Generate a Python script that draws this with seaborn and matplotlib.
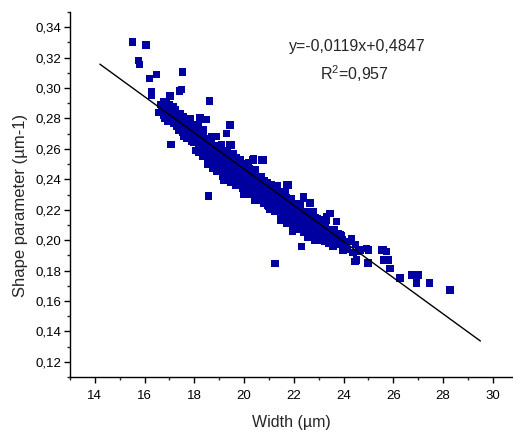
import matplotlib
matplotlib.use("Agg")
import matplotlib.pyplot as plt
from matplotlib.ticker import MultipleLocator, FixedLocator, FixedFormatter
import seaborn as sns
import pandas as pd
import numpy as np

# ---------------- data ----------------
width_outliers = [15.52, 16.06, 15.75, 15.79, 16.49, 16.19, 17.53, 16.28, 16.28, 17.02,
                  17.49, 17.39, 18.60, 16.69, 16.89, 17.09, 17.42, 17.76, 18.23, 18.47,
                  19.43, 19.30, 17.62, 17.89, 18.36, 18.90, 17.06, 18.56, 20.36, 20.76,
                  19.50, 18.76, 21.71, 21.17, 22.38, 23.32, 21.78, 22.31, 23.45, 23.72,
                  23.85, 24.32, 24.66, 24.99, 24.53, 25.53, 25.73, 25.80, 24.98, 23.20,
                  22.92, 24.59, 24.93, 24.46, 25.60, 25.60, 25.86, 26.27, 26.73, 27.00,
                  26.94, 27.44, 28.28, 21.24, 23.57, 23.98, 19.43, 20.70, 20.37, 21.10,
                  22.38, 22.65, 22.78, 23.18, 23.32]
shape_outliers = [0.3303, 0.3282, 0.3179, 0.3155, 0.3089, 0.3063, 0.3105, 0.2975, 0.2950, 0.2947,
                  0.2990, 0.2980, 0.2915, 0.2880, 0.2900, 0.2866, 0.2833, 0.2800, 0.2807, 0.2794,
                  0.2756, 0.2702, 0.2723, 0.2745, 0.2723, 0.2680, 0.2630, 0.2290, 0.2526, 0.2526,
                  0.2625, 0.2472, 0.2362, 0.2351, 0.2275, 0.2132, 0.2362, 0.1957, 0.2176, 0.2121,
                  0.2034, 0.2012, 0.1935, 0.1935, 0.1870, 0.1935, 0.1924, 0.1870, 0.1850, 0.2023,
                  0.2012, 0.1924, 0.1946, 0.1859, 0.1935, 0.1870, 0.1815, 0.1750, 0.1771, 0.1771,
                  0.1717, 0.1717, 0.1673, 0.1848, 0.1957, 0.1935, 0.2626, 0.2526, 0.2537, 0.2362,
                  0.2286, 0.2244, 0.2187, 0.2132, 0.2154]

width_band = [16.63, 16.56, 16.77, 16.68, 16.75, 16.74, 16.81, 16.98, 16.85, 16.92,
              17.03, 16.96, 17.17, 17.08, 17.15, 17.14, 17.21, 17.28, 17.25, 17.32,
              17.33, 17.36, 17.47, 17.38, 17.55, 17.44, 17.51, 17.58, 17.55, 17.62,
              17.63, 17.66, 17.77, 17.68, 17.85, 17.74, 17.81, 17.88, 17.85, 17.92,
              17.93, 17.96, 18.07, 17.98, 18.05, 18.04, 18.11, 18.18, 18.15, 18.22,
              18.23, 18.16, 18.37, 18.28, 18.35, 18.34, 18.41, 18.48, 18.35, 18.52,
              18.53, 18.46, 18.67, 18.58, 18.65, 18.54, 18.71, 18.78, 18.65, 18.72,
              18.83, 18.76, 18.87, 18.88, 18.95, 18.84, 18.91, 19.08, 18.95, 19.02,
              19.03, 19.06, 19.17, 19.08, 19.15, 19.14, 19.21, 19.28, 19.15, 19.32,
              19.33, 19.26, 19.37, 19.38, 19.45, 19.34, 19.41, 19.58, 19.45, 19.52,
              19.53, 19.46, 19.67, 19.58, 19.65, 19.54, 19.71, 19.78, 19.65, 19.72,
              19.83, 19.76, 19.87, 19.78, 19.95, 19.84, 19.91, 19.98, 19.95, 20.02,
              20.03, 19.96, 20.17, 20.08, 20.15, 20.04, 20.21, 20.28, 20.15, 20.22,
              20.33, 20.26, 20.37, 20.28, 20.45, 20.34, 20.41, 20.48, 20.45, 20.52,
              20.53, 20.46, 20.67, 20.58, 20.65, 20.54, 20.71, 20.78, 20.65, 20.72,
              20.83, 20.76, 20.87, 20.78, 20.95, 20.84, 20.91, 20.98, 20.95, 21.02,
              21.03, 20.96, 21.17, 21.08, 21.15, 21.04, 21.21, 21.28, 21.15, 21.22,
              21.33, 21.26, 21.37, 21.28, 21.45, 21.34, 21.41, 21.48, 21.45, 21.52,
              21.53, 21.46, 21.67, 21.58, 21.65, 21.54, 21.71, 21.78, 21.65, 21.72,
              21.83, 21.76, 21.87, 21.88, 21.95, 21.84, 21.91, 22.08, 21.95, 22.02,
              22.03, 22.06, 22.17, 22.08, 22.25, 22.14, 22.21, 22.28, 22.25, 22.32,
              22.33, 22.36, 22.47, 22.38, 22.55, 22.44, 22.51, 22.58, 22.55, 22.62,
              22.63, 22.66, 22.77, 22.68, 22.85, 22.74, 22.81, 22.88, 22.85, 22.92,
              22.93, 22.96, 23.07, 22.98, 23.05, 23.04, 23.11, 23.18, 23.15, 23.22,
              23.23, 23.26, 23.37, 23.28, 23.45, 23.34, 23.41, 23.58, 23.45, 23.62,
              23.63, 23.56, 23.77, 23.68, 23.85, 23.74, 23.91, 23.98, 23.95, 24.02,
              24.23, 24.16, 24.47, 24.38,
              18.73, 19.16, 19.67, 19.98, 20.15, 20.44, 21.01, 21.48, 21.45, 21.72,
              21.95, 21.94, 22.11, 22.38, 22.55, 22.82]
shape_band = [0.289, 0.284, 0.291, 0.286, 0.282, 0.287, 0.280, 0.289, 0.284, 0.278,
              0.285, 0.281, 0.288, 0.282, 0.277, 0.284, 0.279, 0.275, 0.286, 0.280,
              0.276, 0.282, 0.277, 0.272, 0.281, 0.276, 0.271, 0.268, 0.279, 0.274,
              0.270, 0.277, 0.272, 0.267, 0.280, 0.275, 0.270, 0.265, 0.276, 0.271,
              0.266, 0.274, 0.269, 0.264, 0.259, 0.272, 0.267, 0.262, 0.276, 0.270,
              0.265, 0.258, 0.268, 0.263, 0.259, 0.271, 0.266, 0.261, 0.255, 0.267,
              0.262, 0.257, 0.264, 0.259, 0.254, 0.250, 0.268, 0.261, 0.256, 0.252,
              0.262, 0.257, 0.251, 0.259, 0.254, 0.249, 0.245, 0.263, 0.257, 0.252,
              0.247, 0.260, 0.255, 0.250, 0.244, 0.256, 0.251, 0.246, 0.242, 0.259,
              0.253, 0.248, 0.243, 0.255, 0.250, 0.245, 0.240, 0.257, 0.252, 0.247,
              0.242, 0.238, 0.254, 0.249, 0.244, 0.239, 0.251, 0.246, 0.241, 0.237,
              0.253, 0.248, 0.243, 0.238, 0.250, 0.245, 0.240, 0.235, 0.248, 0.243,
              0.238, 0.234, 0.251, 0.245, 0.240, 0.235, 0.247, 0.242, 0.237, 0.232,
              0.244, 0.239, 0.234, 0.230, 0.246, 0.241, 0.236, 0.231, 0.243, 0.238,
              0.233, 0.228, 0.240, 0.235, 0.230, 0.226, 0.242, 0.237, 0.232, 0.227,
              0.239, 0.234, 0.229, 0.224, 0.236, 0.231, 0.226, 0.222, 0.238, 0.233,
              0.228, 0.223, 0.235, 0.230, 0.225, 0.220, 0.233, 0.228, 0.223, 0.219,
              0.236, 0.230, 0.225, 0.220, 0.232, 0.227, 0.222, 0.217, 0.229, 0.224,
              0.219, 0.215, 0.231, 0.226, 0.221, 0.216, 0.228, 0.223, 0.218, 0.213,
              0.225, 0.220, 0.215, 0.227, 0.222, 0.217, 0.212, 0.224, 0.219, 0.214,
              0.210, 0.221, 0.216, 0.211, 0.223, 0.218, 0.213, 0.208, 0.220, 0.215,
              0.210, 0.217, 0.212, 0.207, 0.219, 0.214, 0.209, 0.205, 0.216, 0.211,
              0.206, 0.213, 0.208, 0.203, 0.215, 0.210, 0.205, 0.201, 0.212, 0.207,
              0.203, 0.214, 0.209, 0.204, 0.200, 0.211, 0.206, 0.201, 0.208, 0.203,
              0.199, 0.210, 0.205, 0.200, 0.207, 0.202, 0.198, 0.205, 0.200, 0.207,
              0.202, 0.197, 0.204, 0.199, 0.201, 0.197, 0.203, 0.198, 0.200, 0.196,
              0.199, 0.194, 0.197, 0.192,
              0.247, 0.239, 0.236, 0.230, 0.231, 0.226, 0.221, 0.215, 0.213, 0.211,
              0.209, 0.206, 0.207, 0.205, 0.202, 0.200]

fit_slope = -0.0119
fit_intercept = 0.4847
fit_x_range = [14.2, 29.5]
equation_text = "y=-0,0119x+0,4847"
r2_text = "R$^2$=0,957"

x_ticks = [14, 16, 18, 20, 22, 24, 26, 28, 30]
x_tick_labels = ["14", "16", "18", "20", "22", "24", "26", "28", "30"]
y_ticks = [0.12, 0.14, 0.16, 0.18, 0.20, 0.22, 0.24, 0.26, 0.28, 0.30, 0.32, 0.34]
y_tick_labels = ["0,12", "0,14", "0,16", "0,18", "0,20", "0,22", "0,24",
                 "0,26", "0,28", "0,30", "0,32", "0,34"]

# ---------------- style ----------------
sns.set_style("ticks")
plt.rcParams['font.family'] = ['Liberation Sans', 'DejaVu Sans']
plt.rcParams['mathtext.default'] = 'regular'

df = pd.DataFrame({
    "Width": width_outliers + width_band,
    "Shape": shape_outliers + shape_band,
})

fig = plt.figure(figsize=(5.13, 4.32), dpi=100)
ax = fig.add_axes([70 / 513, 55 / 432, 443 / 513, 365 / 432])

sns.scatterplot(data=df, x="Width", y="Shape", marker="s", s=28,
                color="#0000a0", linewidth=0, edgecolor="none", ax=ax, zorder=2)

fx = np.array(fit_x_range)
ax.plot(fx, fit_slope * fx + fit_intercept, color="black", lw=1.0, zorder=3)

ax.set_xlim(13, 30.81)
ax.set_ylim(0.11, 0.35)

ax.xaxis.set_major_locator(FixedLocator(x_ticks))
ax.xaxis.set_major_formatter(FixedFormatter(x_tick_labels))
ax.yaxis.set_major_locator(FixedLocator(y_ticks))
ax.yaxis.set_major_formatter(FixedFormatter(y_tick_labels))
ax.xaxis.set_minor_locator(MultipleLocator(1))
ax.yaxis.set_minor_locator(MultipleLocator(0.01))

ax.tick_params(axis="both", which="major", direction="out", length=4.5, width=1.0,
               labelsize=9.5, colors="black")
ax.tick_params(axis="both", which="minor", direction="out", length=2.5, width=1.0)
ax.tick_params(axis="y", which="major", pad=1.5)
ax.tick_params(axis="x", which="major", pad=5)

sns.despine(ax=ax)
for sp in ["left", "bottom"]:
    ax.spines[sp].set_linewidth(1.0)
    ax.spines[sp].set_color("black")

ax.set_xlabel("Width (µm)", fontsize=11.5, labelpad=9)
ax.set_ylabel("Shape parameter (µm-1)", fontsize=12, labelpad=4)
ax.yaxis.set_label_coords(-0.095, 0.47)

fig.text(357 / 513, 1 - 47 / 432, equation_text, ha="center", va="center", fontsize=11.5)
fig.text(354 / 513, 1 - 74 / 432, r2_text, ha="center", va="center", fontsize=11.5)

fig.savefig("out.png", dpi=100)
